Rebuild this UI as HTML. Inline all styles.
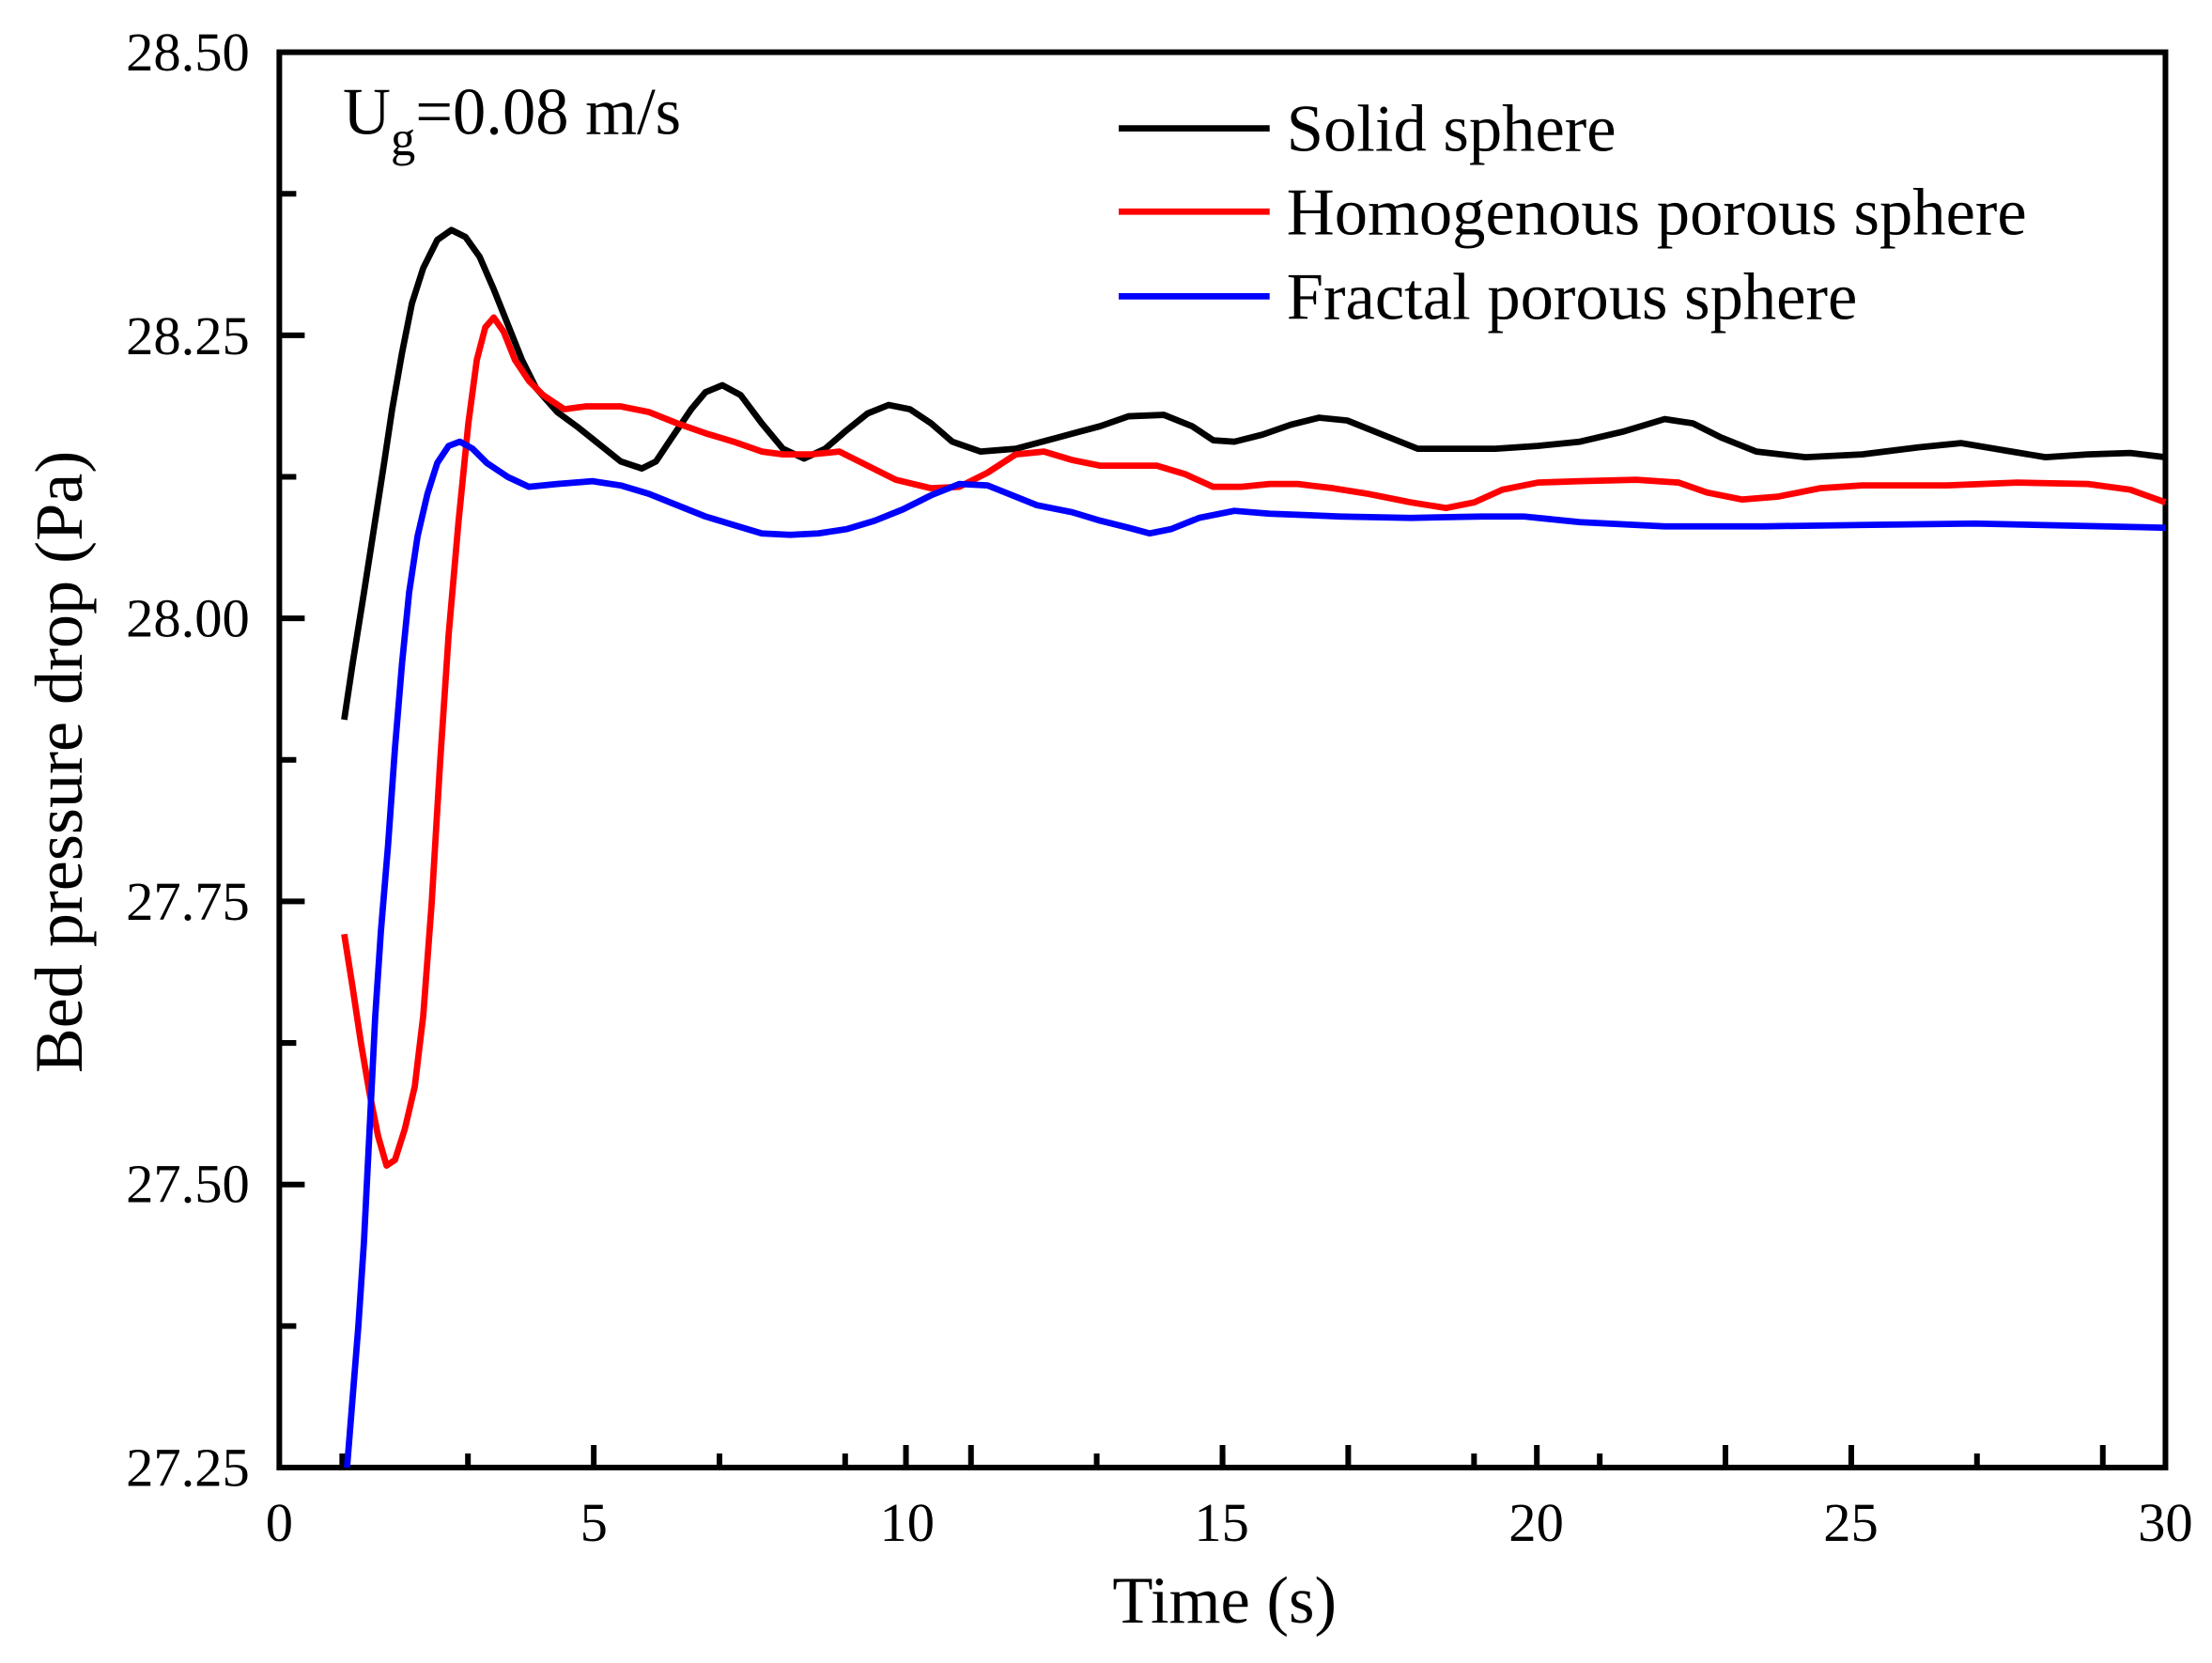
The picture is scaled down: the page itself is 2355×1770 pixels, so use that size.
<!DOCTYPE html>
<html><head><style>html,body{margin:0;padding:0;background:#fff}svg{display:block}</style></head><body>
<svg width="2355" height="1770" viewBox="0 0 1568 1178.5" preserveAspectRatio="none" xmlns="http://www.w3.org/2000/svg" font-family="Liberation Serif, serif">
<g stroke="#000" stroke-width="4" fill="none">
<rect x="198" y="37" width="1337" height="1003"/>
<path d="M198 137.3h12M198 337.9h12M198 538.5h12M198 739.1h12M198 939.7h12M198 237.6h18M198 438.2h18M198 638.8h18M198 839.4h18"/>
<path d="M242.6 1040v-10M331.7 1040v-10M420.9 1040v-16M510 1040v-10M599.1 1040v-10M688.3 1040v-16M777.4 1040v-10M866.6 1040v-10M955.7 1040v-16M1044.9 1040v-10M1134 1040v-10M1223.1 1040v-16M1312.3 1040v-10M1401.4 1040v-10M1490.6 1040v-16"/>
<path d="M642.2 1040v-16M1089.4 1040v-16M1312.3 1040v-16M866.6 1040v-16"/>
</g>
<g font-size="39" text-anchor="end">
<text x="177" y="50">28.50</text><text x="177" y="251">28.25</text><text x="177" y="451">28.00</text><text x="177" y="652">27.75</text><text x="177" y="852">27.50</text><text x="177" y="1053">27.25</text>
</g>
<g font-size="39" text-anchor="middle">
<text x="198" y="1092">0</text><text x="421" y="1092">5</text><text x="643" y="1092">10</text><text x="866" y="1092">15</text><text x="1089" y="1092">20</text><text x="1312" y="1092">25</text><text x="1535" y="1092">30</text>
</g>
<text x="868" y="1150" font-size="47" text-anchor="middle">Time (s)</text>
<text transform="translate(58,540) rotate(-90)" font-size="48" text-anchor="middle">Bed pressure drop (Pa)</text>
<text x="243" y="95" font-size="47">U<tspan font-size="35" dy="15">g</tspan><tspan dy="-15">=0.08 m/s</tspan></text>
<g stroke-width="4.5" fill="none" stroke-linejoin="round">
<path stroke="#000" d="M244,510 250,470 258,420 265,375 272,330 278,290 285,250 292,215 300,190 310,170 320,163 330,168 340,182 350,205 360,230 370,255 380,275 395,292 410,303 425,315 440,327 455,332 465,327 475,312 490,290 500,278 512,273 525,280 540,300 555,318 570,325 585,318 600,305 615,293 630,287 645,290 660,300 675,313 695,320 720,318 750,310 780,302 800,295 825,294 845,302 860,312 875,313 895,308 915,301 935,296 955,298 980,308 1005,318 1030,318 1060,318 1090,316 1120,313 1150,306 1180,297 1200,300 1220,310 1245,320 1280,324 1320,322 1360,317 1390,314 1420,319 1450,324 1480,322 1510,321 1535,324"/>
<path stroke="#f00" d="M244,662 250,700 256,740 262,775 268,805 274,826 280,822 287,800 294,770 300,720 306,640 312,540 318,450 325,370 332,300 338,255 344,232 350,225 357,235 365,255 375,270 385,280 400,290 415,288 440,288 460,292 480,300 500,307 520,313 540,320 555,322 575,322 595,320 615,330 635,340 660,346 680,345 700,335 720,322 740,320 760,326 780,330 800,330 820,330 840,336 860,345 880,345 900,343 920,343 945,346 970,350 1000,356 1025,360 1045,356 1065,347 1090,342 1120,341 1160,340 1190,342 1210,349 1235,354 1260,352 1290,346 1320,344 1380,344 1430,342 1480,343 1510,347 1535,356"/>
<path stroke="#00f" d="M246,1040 250,990 254,940 258,880 262,800 266,720 270,660 275,600 280,530 285,470 290,420 296,380 303,350 310,328 318,316 326,313 335,318 345,328 360,338 375,345 395,343 420,341 440,344 460,350 480,358 500,366 520,372 540,378 560,379 580,378 600,375 620,369 640,361 660,351 680,343 700,344 715,350 735,358 760,363 780,369 800,374 815,378 830,375 850,367 875,362 900,364 950,366 1000,367 1050,366 1080,366 1120,370 1180,373 1250,373 1320,372 1400,371 1535,374"/>
<path stroke="#000" d="M793 91H900"/><path stroke="#f00" d="M793 150H900"/><path stroke="#00f" d="M793 210H900"/>
</g>
<g font-size="47">
<text x="912" y="107">Solid sphere</text><text x="912" y="166">Homogenous porous sphere</text><text x="912" y="226">Fractal porous sphere</text>
</g>
</svg>
</body></html>
